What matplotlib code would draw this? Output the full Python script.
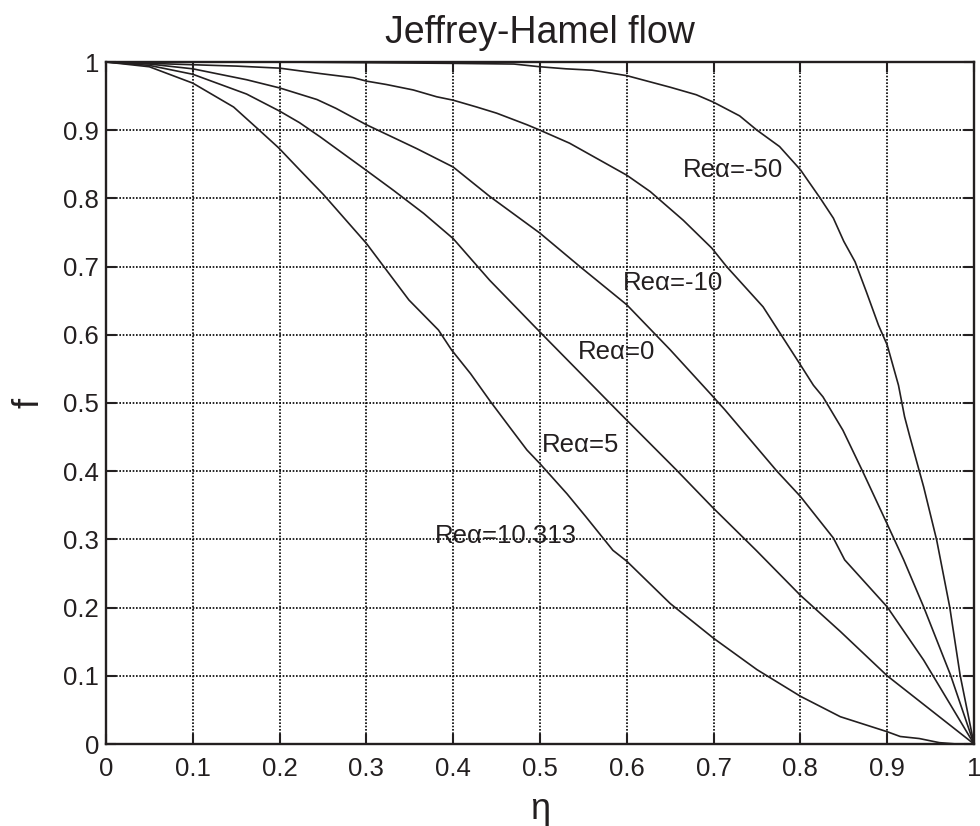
import numpy as np
import matplotlib
matplotlib.use("Agg")
import matplotlib.pyplot as plt

plt.rcParams['font.family'] = ['Liberation Sans', 'DejaVu Sans']

# values
eta_m50 = [0, 0.1, 0.2, 0.3, 0.4, 0.47, 0.5, 0.53, 0.56, 0.6, 0.65, 0.68, 0.7, 0.73,
           0.75, 0.776, 0.8, 0.823, 0.838, 0.85, 0.863, 0.876, 0.89, 0.9, 0.913,
           0.92, 0.926, 0.942, 0.957, 0.972, 0.984, 1.0]
f_m50 = [1.0, 1.0, 1.0, 0.999, 0.998, 0.997, 0.993, 0.990, 0.988, 0.980, 0.963, 0.952,
         0.941, 0.921, 0.900, 0.876, 0.842, 0.800, 0.771, 0.737, 0.707, 0.663, 0.614,
         0.585, 0.526, 0.480, 0.451, 0.377, 0.299, 0.201, 0.101, 0.0]

eta_m10 = [0, 0.1, 0.15, 0.2, 0.247, 0.285, 0.3, 0.323, 0.354, 0.381, 0.4, 0.427,
           0.45, 0.485, 0.5, 0.534, 0.6, 0.627, 0.665, 0.698, 0.715, 0.757, 0.8,
           0.815, 0.826, 0.849, 0.872, 0.898, 0.919, 0.942, 0.973, 1.0]
f_m10 = [1.0, 0.996, 0.994, 0.991, 0.983, 0.977, 0.972, 0.967, 0.959, 0.949, 0.944,
         0.934, 0.925, 0.908, 0.900, 0.881, 0.834, 0.810, 0.768, 0.727, 0.700, 0.641,
         0.556, 0.526, 0.509, 0.460, 0.399, 0.328, 0.270, 0.201, 0.101, 0.0]

eta_0 = [0, 0.05, 0.1, 0.162, 0.2, 0.243, 0.265, 0.3, 0.358, 0.4, 0.442, 0.5, 0.546,
         0.6, 0.65, 0.696, 0.713, 0.773, 0.8, 0.838, 0.851, 0.9, 0.942, 1.0]
f_0 = [1.0, 0.997, 0.990, 0.974, 0.962, 0.945, 0.932, 0.908, 0.873, 0.846, 0.803,
       0.749, 0.700, 0.644, 0.578, 0.514, 0.490, 0.400, 0.363, 0.302, 0.270, 0.201,
       0.123, 0.0]

eta_5 = [0, 0.05, 0.1, 0.162, 0.2, 0.223, 0.247, 0.3, 0.331, 0.366, 0.4, 0.442, 0.5,
         0.558, 0.592, 0.657, 0.698, 0.749, 0.8, 0.846, 0.9, 0.95, 1.0]
f_5 = [1.0, 0.995, 0.982, 0.953, 0.928, 0.911, 0.890, 0.841, 0.812, 0.778, 0.741,
       0.680, 0.604, 0.529, 0.485, 0.402, 0.348, 0.284, 0.218, 0.165, 0.100, 0.050, 0.0]

eta_10 = [0, 0.05, 0.1, 0.147, 0.174, 0.199, 0.223, 0.251, 0.3, 0.349, 0.383, 0.398,
          0.42, 0.443, 0.466, 0.485, 0.5, 0.531, 0.553, 0.584, 0.6, 0.65, 0.7, 0.75,
          0.8, 0.846, 0.9, 0.915, 0.937, 0.96, 0.98, 1.0]
f_10 = [1.0, 0.993, 0.969, 0.934, 0.903, 0.874, 0.842, 0.805, 0.734, 0.651, 0.607,
        0.578, 0.543, 0.502, 0.463, 0.431, 0.411, 0.367, 0.333, 0.284, 0.268, 0.206,
        0.155, 0.109, 0.070, 0.040, 0.018, 0.011, 0.008, 0.002, 0.0, 0.0]

curves = [(eta_m50, f_m50), (eta_m10, f_m10), (eta_0, f_0), (eta_5, f_5), (eta_10, f_10)]
labels = ["Reα=-50", "Reα=-10", "Reα=0", "Reα=5", "Reα=10.313"]
label_x = [0.665, 0.596, 0.544, 0.502, 0.379]
label_y = [0.842, 0.676, 0.575, 0.438, 0.305]

ticks = [0, 0.1, 0.2, 0.3, 0.4, 0.5, 0.6, 0.7, 0.8, 0.9, 1]
tick_text = ["0", "0.1", "0.2", "0.3", "0.4", "0.5", "0.6", "0.7", "0.8", "0.9", "1"]

ink = '#231f20'

fig = plt.figure(figsize=(9.8, 8.26), dpi=100)
ax = fig.add_axes([106/980, 82/826, 868/980, 682/826])

for x, y in curves:
	ax.plot(x, y, color=ink, lw=1.2)

for s, x, y in zip(labels, label_x, label_y):
	ax.text(x, y, s, fontsize=18.5, color=ink, ha='left', va='center')

ax.set_xlim(0, 1)
ax.set_ylim(0, 1)
ax.set_xticks(ticks)
ax.set_yticks(ticks)
ax.set_xticklabels(tick_text)
ax.set_yticklabels(tick_text)
ax.grid(True, color='black', linestyle=(0, (1.0, 1.0)), lw=1.2)
ax.tick_params(direction='in', length=7, width=1.5, top=True, right=True,
	labelsize=18.5, labelcolor=ink, color=ink)
ax.tick_params(axis='x', pad=9)
ax.tick_params(axis='y', pad=5)
for sp in ax.spines.values():
	sp.set_linewidth(1.7)
	sp.set_color(ink)

ax.set_title("Jeffrey-Hamel flow", fontsize=27, color=ink, pad=14)
ax.set_xlabel("η", fontsize=26, color=ink, labelpad=8)
ax.set_ylabel("f", fontsize=26, color=ink, labelpad=12)

fig.savefig("out.png", dpi=100)
